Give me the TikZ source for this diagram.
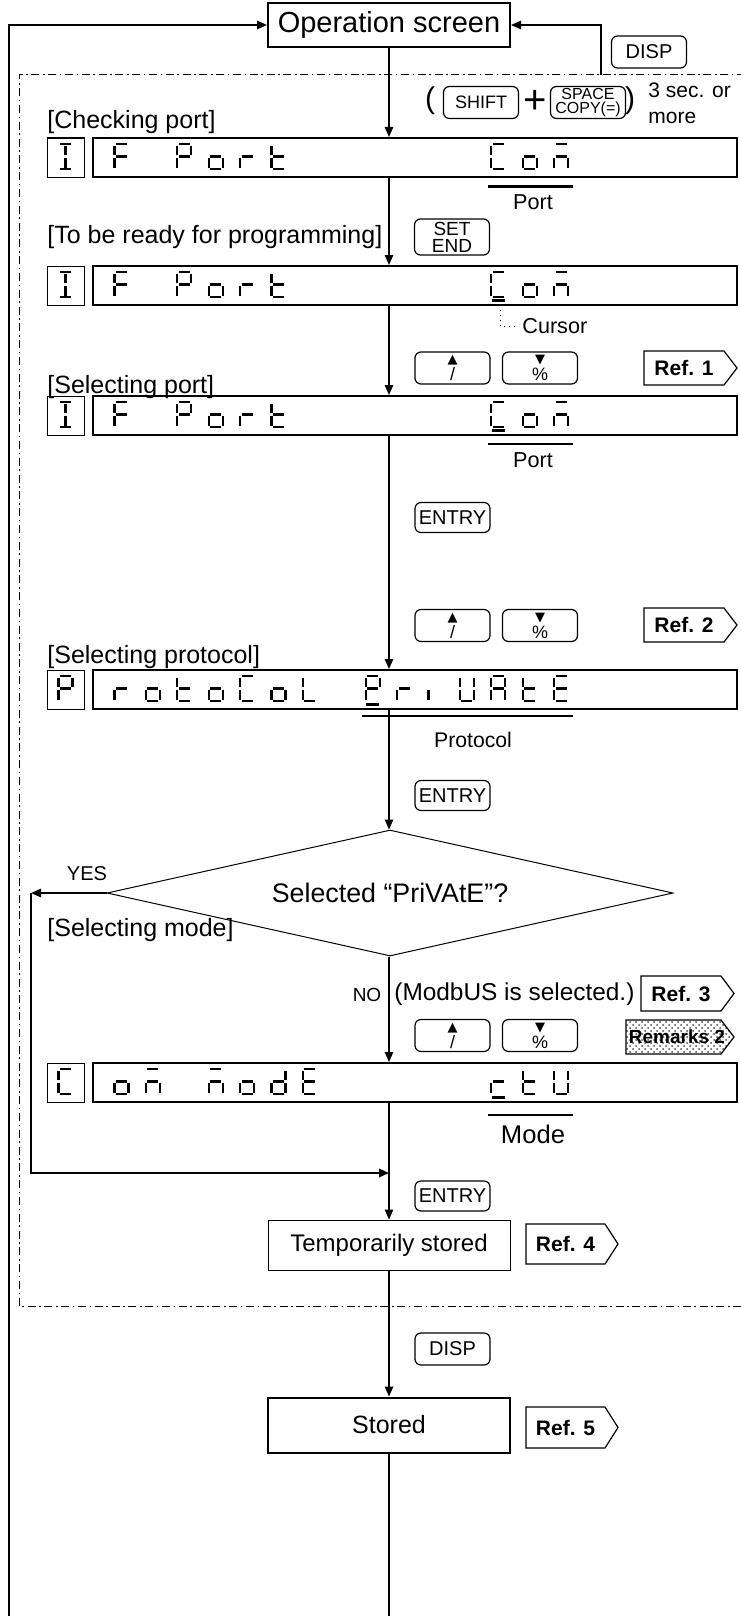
\documentclass[tikz,border=0pt]{standalone}
\usepackage{fontspec}
\setmainfont{Liberation Sans}
\newfontfamily\djv{DejaVu Sans}
\usetikzlibrary{arrows.meta,patterns,shapes.geometric}
\tikzset{
 ln/.style={line width=0.75pt},
 arr/.style={line width=0.75pt,-{Triangle[length=5pt,width=4.2pt]}},
 bigbox/.style={draw,line width=1pt,minimum width=322pt,minimum height=19.5pt,inner sep=0pt},
 smallbox/.style={draw,line width=0.5pt,minimum width=18.5pt,minimum height=19.5pt,inner sep=0pt},
 key/.style={draw,rounded corners=3pt,line width=0.6pt,minimum width=37.5pt,minimum height=15pt,inner sep=0pt,align=center,font=\fontsize{10}{10}\selectfont},
 seg/.style={line width=1.15pt},
 lbl/.style={anchor=west,inner sep=0pt,font=\fontsize{12.5}{15}\selectfont},
 small/.style={inner sep=0pt,font=\fontsize{10.8}{12}\selectfont},
 tag/.style={draw,line width=0.6pt,fill=white},
 tagtext/.style={inner sep=0pt},
 dashdot/.style={line width=0.5pt,dash pattern=on 4pt off 1.8pt on 0.8pt off 1.8pt},
}
\def\sga{\draw[seg] (2,1)--(13,1);}
\def\sgb{\draw[seg] (14.5,2.5)--(14.5,12.3);}
\def\sgc{\draw[seg] (14.5,14.7)--(14.5,24.5);}
\def\sgd{\draw[seg] (2,26)--(13,26);}
\def\sge{\draw[seg] (0.5,14.7)--(0.5,24.5);}
\def\sgf{\draw[seg] (0.5,2.5)--(0.5,12.3);}
\def\sgg{\draw[seg] (2,13.5)--(13,13.5);}
\def\sgh{\draw[seg] (7.5,2.5)--(7.5,12.3);}
\def\sgk{\draw[seg] (7.5,14.7)--(7.5,24.5);}
\def\dgF{a,e,f,g}
\def\dgP{a,b,e,f,g}
\def\dgo{c,d,e,g}
\def\dgr{e,g}
\def\dgt{d,e,f,g}
\def\dgC{a,d,e,f}
\def\dgm{a,c,e,g}
\def\dgL{d,e,f}
\def\dgi{e}
\def\dgV{b,c,d,e,f}
\def\dgA{a,b,c,e,f,g}
\def\dgE{a,d,e,f,g}
\def\dgd{b,c,d,e,g}
\def\dgU{b,c,d,e,f}
\def\dgI{a,d,h,k}
% cell k of the display, top y
\newcommand\dch[3]{\begin{scope}[shift={({114+(#1-1)*31.4},#2)}]\foreach \s in #3 {\csname sg\s\endcsname}\end{scope}}
\newcommand\dcz[2]{\begin{scope}[shift={(58,#1)}]\foreach \s in #2 {\csname sg\s\endcsname}\end{scope}}
\newcommand\curs[2]{\draw[line width=1.15pt] ({114+(#1-1)*31.4+1},#2) -- ({114+(#1-1)*31.4+14},#2);}
\newcommand\ovl[3]{\draw[line width=1.1pt] ({114+(#1-1)*31.4-3},#3) -- ({114+(#2-1)*31.4+19},#3);}
\newcommand\rtag[7]{\draw[tag] (#2,#3) -- ({#4-13},#3) -- (#4,{(#3+#5)/2}) -- ({#4-13},#5) -- (#2,#5) -- cycle;
 \node[tagtext,font=\fontsize{#7}{11}\selectfont\bfseries] (#1) at ({(#2+#4-13)/2},{(#3+#5)/2}) {#6};}
\newcommand\updown[2]{%
 \node[key,minimum height=16pt,font=\fontsize{9}{8.5}\selectfont] (u#1) at (452.5,#2) {{\djv\fontsize{6.5}{6.5}\selectfont ▲}\\/};
 \node[key,minimum height=16pt,font=\fontsize{9}{8.5}\selectfont] (d#1) at (540,#2) {{\djv\fontsize{6.5}{6.5}\selectfont ▼}\\\%};}
\newcommand\portrow[1]{%
 \dcz{#1}{\dgI}
 \dch{1}{#1}{\dgF}\dch{3}{#1}{\dgP}\dch{4}{#1}{\dgo}\dch{5}{#1}{\dgr}\dch{6}{#1}{\dgt}
 \dch{13}{#1}{\dgC}\dch{14}{#1}{\dgo}\dch{15}{#1}{\dgm}}
\begin{document}
\begin{tikzpicture}[x=0.5pt,y=-0.5pt]
\useasboundingbox (0,0) rectangle (740,1616);
% dash-dot region
\draw[dashdot] (745,75) -- (19,75) -- (19,1306) -- (745,1306);
% operation screen
\node[draw,line width=1pt,minimum width=121pt,minimum height=22pt,inner sep=0pt,font=\fontsize{14.5}{17}\selectfont] (op) at (389,25) {Operation screen};
\coordinate (bl) at (9,1616);
\coordinate (tl) at (9,25);
\draw[arr,line width=1pt] (bl) -- (tl) -- (op.west);
\coordinate (dr) at (601,75);
\draw[arr] (dr) -- (dr |- op.east) -- (op.east);
\node[key,minimum height=16pt] (dispa) at (649,52) {DISP};
% shift row
\node[inner sep=0pt,font=\fontsize{15}{17}\selectfont] (lp) at (430,101) {(};
\node[key,minimum height=16pt,font=\fontsize{9}{9}\selectfont] (shift) at (481,102.5) {SHIFT};
\node[inner sep=0pt,font=\fontsize{20}{22}\selectfont] (plus) at (535,102) {+};
\node[key,minimum height=16pt,font=\fontsize{8}{7.3}\selectfont] (space) at (588,102.5) {SPACE\\COPY(=)};
\node[inner sep=0pt,font=\fontsize{15}{17}\selectfont] (rp) at (630,101) {)};
\node[anchor=west,inner sep=0pt,font=\fontsize{10.5}{12}\selectfont] (sec) at (648,90) {3 sec. or};
\node[anchor=west,inner sep=0pt,font=\fontsize{10.5}{12}\selectfont] (more) at (648,118) {more};
% row 1
\node[lbl] (l1) at (47,122) {[Checking port]};
\node[smallbox] (r1s) at (65.5,157.5) {};
\node[bigbox] (r1) at (415,157.5) {};
\draw[arr] (op.south) -- (op.south |- r1.north);
\portrow{143}
\ovl{13}{15}{186.5}
\node[small] (p1) at (533,202) {Port};
\node[key,minimum height=18pt,font=\fontsize{9.5}{8.5}\selectfont] (setend) at (452,237) {SET\\END};
% row 2
\node[lbl] (l2) at (47,237) {[To be ready for programming]};
\node[smallbox] (r2s) at (65.5,285.5) {};
\node[bigbox] (r2) at (415,285.5) {};
\draw[arr] (r1.south -| op.south) -- (r2.north -| op.south);
\portrow{271}
\curs{13}{300.5}
\coordinate (c1) at (500,305);
\coordinate (c2) at (500,326);
\coordinate (c3) at (519,326);
\draw[line width=0.5pt,dotted] (c1) -- (c2) -- (c3);
\node[small,anchor=west] (cur) at (522,326) {Cursor};
\updown{1}{368}
\rtag{ref1}{644}{351}{737}{385}{Ref. 1}{10.5}
% row 3
\node[lbl] (l3) at (47,387) {[Selecting port]};
\node[smallbox] (r3s) at (65.5,415.5) {};
\node[bigbox] (r3) at (415,415.5) {};
\draw[arr] (r2.south -| op.south) -- (r3.north -| op.south);
\portrow{401}
\curs{13}{430.5}
\ovl{13}{15}{444}
\node[small] (p3) at (533,460) {Port};
\node[key] (ent1) at (452.5,517.5) {ENTRY};
\updown{2}{625.5}
\rtag{ref2}{644}{608}{737}{642}{Ref. 2}{10.5}
% row 4
\node[lbl] (l4) at (47,657) {[Selecting protocol]};
\node[smallbox] (r4s) at (65.5,689.5) {};
\node[bigbox] (r4) at (415,689.5) {};
\draw[arr] (r3.south -| op.south) -- (r4.north -| op.south);
\dcz{675}{\dgP}
\dch{1}{675}{\dgr}\dch{2}{675}{\dgo}\dch{3}{675}{\dgt}\dch{4}{675}{\dgo}\dch{5}{675}{\dgC}\dch{6}{675}{\dgo}\dch{7}{675}{\dgL}
\dch{9}{675}{\dgP}\dch{10}{675}{\dgr}\dch{11}{675}{\dgi}\dch{12}{675}{\dgV}\dch{13}{675}{\dgA}\dch{14}{675}{\dgt}\dch{15}{675}{\dgE}
\curs{9}{704.5}
\ovl{9}{15}{716}
\node[inner sep=0pt,font=\fontsize{10.6}{12}\selectfont] (p4) at (473,740) {Protocol};
\node[key] (ent2) at (452.5,795.5) {ENTRY};
% decision
\node[draw,diamond,aspect=4.5,line width=0.5pt,minimum width=283pt,minimum height=63pt,inner sep=0pt,font=\fontsize{13.4}{16}\selectfont] (dia) at (390,893) {Selected “PriVAtE”?};
\draw[arr] (r4.south -| op.south) -- (dia.north -| op.south);
\coordinate (yl) at (31,893);
\coordinate (yb) at (31,1173);
\draw[arr] (dia.west) -- (yl);
\node[inner sep=0pt,font=\fontsize{10}{12}\selectfont] (yes) at (87,874) {YES};
\node[lbl] (l5) at (47,930) {[Selecting mode]};
\node[inner sep=0pt,font=\fontsize{9.5}{11}\selectfont] (no) at (367,994.5) {NO};
\node[anchor=west,inner sep=0pt,font=\fontsize{12.2}{14}\selectfont] (mb) at (394,994.5) {(ModbUS is selected.)};
\rtag{ref3}{641}{976}{734}{1011}{Ref. 3}{10.5}
\updown{3}{1035.5}
\fill[pattern=crosshatch dots,pattern color=black!70] (626,1020) -- (721,1020) -- (734,1037) -- (721,1054) -- (626,1054) -- cycle;
\draw[line width=0.6pt] (626,1020) -- (721,1020) -- (734,1037) -- (721,1054) -- (626,1054) -- cycle;
\node[inner sep=0pt,font=\fontsize{9.5}{11}\selectfont\bfseries] (rem) at (677,1037) {Remarks 2};
% row 5
\node[smallbox] (r5s) at (65.5,1082.5) {};
\node[bigbox] (r5) at (415,1082.5) {};
\draw[arr] (dia.south -| op.south) -- (r5.north -| op.south);
\dcz{1068}{\dgC}
\dch{1}{1068}{\dgo}\dch{2}{1068}{\dgm}\dch{4}{1068}{\dgm}\dch{5}{1068}{\dgo}\dch{6}{1068}{\dgd}\dch{7}{1068}{\dgE}
\dch{13}{1068}{\dgr}\dch{14}{1068}{\dgt}\dch{15}{1068}{\dgU}
\curs{13}{1097.5}
\ovl{13}{15}{1115}
\node[inner sep=0pt,font=\fontsize{12.8}{15}\selectfont] (mode) at (533,1134) {Mode};
\draw[arr,line width=1pt] (yl) -- (yb) -- (yb -| op.south);
\node[key] (ent3) at (452.5,1196) {ENTRY};
% temporarily stored
\node[draw,line width=0.5pt,minimum width=121pt,minimum height=25pt,inner sep=0pt,font=\fontsize{12}{14}\selectfont] (temp) at (389,1245) {Temporarily stored};
\draw[arr] (r5.south -| op.south) -- (temp.north);
\rtag{ref4}{526}{1224}{618}{1264}{Ref. 4}{10.5}
\node[key,minimum height=16pt] (dispb) at (452.5,1349) {DISP};
\node[draw,line width=1pt,minimum width=121pt,minimum height=27.5pt,inner sep=0pt,font=\fontsize{12.5}{15}\selectfont] (stored) at (389,1425) {Stored};
\draw[arr] (temp.south) -- (stored.north);
\rtag{ref5}{526}{1407}{618}{1448}{Ref. 5}{10.5}
\coordinate (bc) at (389,1616);
\draw[ln] (stored.south) -- (bc);
\end{tikzpicture}
\end{document}
